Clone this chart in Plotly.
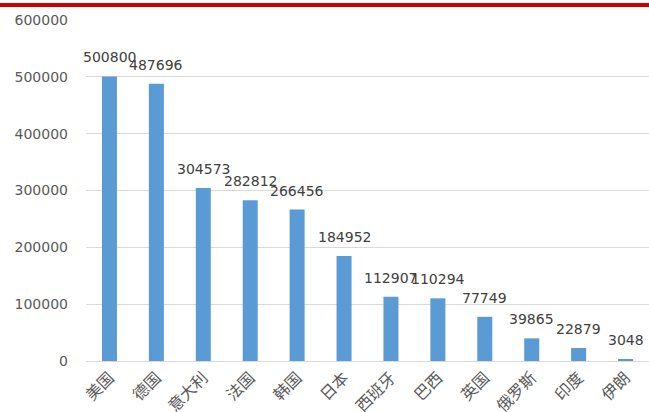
import plotly.graph_objects as go

countries = ["美国", "德国", "意大利", "法国", "韩国", "日本", "西班牙", "巴西", "英国", "俄罗斯", "印度", "伊朗"]
values = [500800, 487696, 304573, 282812, 266456, 184952, 112907, 110294, 77749, 39865, 22879, 3048]
y_ticks = [0, 100000, 200000, 300000, 400000, 500000, 600000]

fig = go.Figure(
    go.Bar(
        x=countries,
        y=values,
        marker=dict(color="#5B9BD5", line=dict(width=0)),
        width=0.32,
        hoverinfo="x+y",
    )
)

# value labels sit a little above each bar
for c, v in zip(countries, values):
    fig.add_annotation(
        x=c,
        y=v,
        text=str(v),
        showarrow=False,
        yanchor="bottom",
        xanchor="center",
        yshift=9,
        font=dict(family="DejaVu Sans", size=14, color="#404040"),
    )

fig.update_layout(
    width=649,
    height=412,
    margin=dict(l=86, r=0, t=20, b=51, autoexpand=False),
    paper_bgcolor="white",
    plot_bgcolor="white",
    showlegend=False,
    font=dict(family="Noto Sans CJK SC", color="#595959"),
    xaxis=dict(
        range=[-0.5, len(countries) - 0.5],
        tickangle=-45,
        tickfont=dict(family="Noto Sans CJK SC", size=16, color="#595959"),
        showline=True,
        linecolor="#D9D9D9",
        linewidth=1,
        ticks="",
        automargin=False,
    ),
    yaxis=dict(
        range=[0, 600000],
        tickvals=y_ticks,
        ticktext=[str(t) for t in y_ticks],
        tickfont=dict(family="DejaVu Sans", size=14, color="#595959"),
        showgrid=True,
        gridcolor="#D9D9D9",
        gridwidth=1,
        zeroline=False,
        ticks="",
        ticklabelstandoff=17,
        automargin=False,
    ),
    shapes=[
        dict(
            type="line",
            xref="paper",
            yref="paper",
            x0=-0.2,
            x1=1.05,
            y0=1.044,
            y1=1.044,
            line=dict(color="#CC0000", width=4),
        )
    ],
)

fig.write_html("out.html")
